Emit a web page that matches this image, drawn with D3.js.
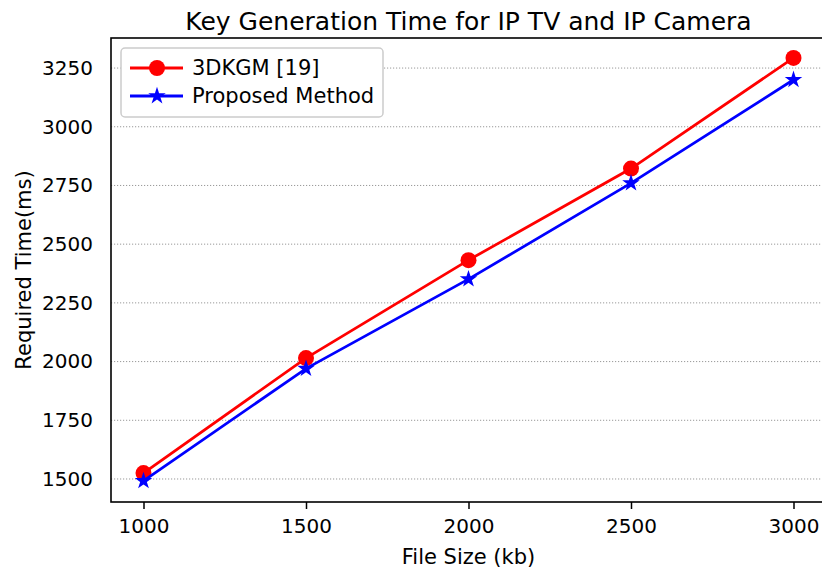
<!DOCTYPE html>
<html>
<head>
<meta charset="utf-8">
<script src="https://cdn.jsdelivr.net/npm/d3@7"></script>
<style>
  body { margin: 0; background: #fff; }
  text { font-family: "DejaVu Sans", sans-serif; fill: #000; }
</style>
</head>
<body>
<div id="chart"></div>
<script>
// data
var fileSizes = [1000, 1500, 2000, 2500, 3000]
var time3dkgm = [1525, 2015, 2432, 2822, 3293]
var timeProposed = [1492, 1970, 2351, 2760, 3200]
var yTicks = [1500, 1750, 2000, 2250, 2500, 2750, 3000, 3250]
var seriesNames = ["3DKGM [19]", "Proposed Method"]

var width = 822
var height = 572
var plot = {left: 111, right: 826, top: 38, bottom: 502}

var svg = d3.select("#chart")
            .append("svg")
            .attr("width", width)
            .attr("height", height)

var xScale = d3.scaleLinear().domain([900, 3100]).range([plot.left, plot.right])
var yScale = d3.scaleLinear().domain([1402, 3378]).range([plot.bottom, plot.top])

// dotted horizontal grid
svg.append("g")
   .selectAll("line")
   .data(yTicks)
   .enter()
   .append("line")
   .attr("x1", plot.left)
   .attr("x2", plot.right)
   .attr("y1", d => yScale(d))
   .attr("y2", d => yScale(d))
   .style("stroke", "#999")
   .style("stroke-width", 1)
   .style("stroke-dasharray", "1.2,1.8")

// x axis (ticks outward, no domain path)
var xAxis = d3.axisBottom(xScale).tickValues(fileSizes).tickSize(7).tickPadding(6).tickFormat(d3.format("d"))
var gx = svg.append("g")
   .attr("transform", "translate(0," + plot.bottom + ")")
   .call(xAxis)
gx.select(".domain").remove()
gx.selectAll("line").style("stroke", "#000").style("stroke-width", 1.5)
gx.selectAll("text").style("font-size", "20px").attr("dy", "0.9em")

// y axis labels only
var yAxis = d3.axisLeft(yScale).tickValues(yTicks).tickSize(0).tickPadding(18).tickFormat(d3.format("d"))
var gy = svg.append("g")
   .attr("transform", "translate(" + plot.left + ",0)")
   .call(yAxis)
gy.select(".domain").remove()
gy.selectAll("text").style("font-size", "20px")

// frame
svg.append("rect")
   .attr("x", plot.left)
   .attr("y", plot.top)
   .attr("width", plot.right - plot.left)
   .attr("height", plot.bottom - plot.top)
   .style("fill", "none")
   .style("stroke", "#000")
   .style("stroke-width", 1.6)

// titles
svg.append("text")
   .attr("x", (plot.left + plot.right) / 2)
   .attr("y", 30)
   .style("text-anchor", "middle")
   .style("font-size", "25px")
   .text("Key Generation Time for IP TV and IP Camera")

svg.append("text")
   .attr("x", (plot.left + plot.right) / 2)
   .attr("y", 564)
   .style("text-anchor", "middle")
   .style("font-size", "21px")
   .text("File Size (kb)")

svg.append("text")
   .attr("transform", "translate(31," + ((plot.top + plot.bottom) / 2) + ") rotate(-90)")
   .style("text-anchor", "middle")
   .style("font-size", "21px")
   .text("Required Time(ms)")

var line = d3.line().x(d => xScale(d[0])).y(d => yScale(d[1]))
var star = d3.symbol().type(d3.symbolStar).size(95)

var redData = fileSizes.map((d, i) => [d, time3dkgm[i]])
var blueData = fileSizes.map((d, i) => [d, timeProposed[i]])

svg.append("path")
   .datum(redData)
   .attr("d", line)
   .style("fill", "none")
   .style("stroke", "#ff0000")
   .style("stroke-width", 2.8)

svg.selectAll("redPoints")
   .data(redData)
   .enter()
   .append("circle")
   .attr("cx", d => xScale(d[0]))
   .attr("cy", d => yScale(d[1]))
   .attr("r", 8)
   .style("fill", "#ff0000")

svg.append("path")
   .datum(blueData)
   .attr("d", line)
   .style("fill", "none")
   .style("stroke", "#0000ff")
   .style("stroke-width", 2.8)

svg.selectAll("bluePoints")
   .data(blueData)
   .enter()
   .append("path")
   .attr("d", star)
   .attr("transform", d => "translate(" + xScale(d[0]) + "," + yScale(d[1]) + ")")
   .style("fill", "#0000ff")

// legend
var legend = svg.append("g").attr("transform", "translate(121,48)")
legend.append("rect")
   .attr("width", 262)
   .attr("height", 69)
   .attr("rx", 4)
   .style("fill", "#fff")
   .style("stroke", "#ccc")
   .style("stroke-width", 1.5)

var legendColors = ["#ff0000", "#0000ff"]
seriesNames.forEach((name, i) => {
  var yy = 20 + i * 28
  legend.append("line")
     .attr("x1", 9).attr("x2", 62)
     .attr("y1", yy).attr("y2", yy)
     .style("stroke", legendColors[i])
     .style("stroke-width", 2.8)
  if (i === 0) {
    legend.append("circle").attr("cx", 36).attr("cy", yy).attr("r", 8).style("fill", legendColors[i])
  } else {
    legend.append("path").attr("d", star).attr("transform", "translate(36," + yy + ")").style("fill", legendColors[i])
  }
  legend.append("text")
     .attr("x", 71)
     .attr("y", yy + 7)
     .style("font-size", "21px")
     .text(name)
})
</script>
</body>
</html>
